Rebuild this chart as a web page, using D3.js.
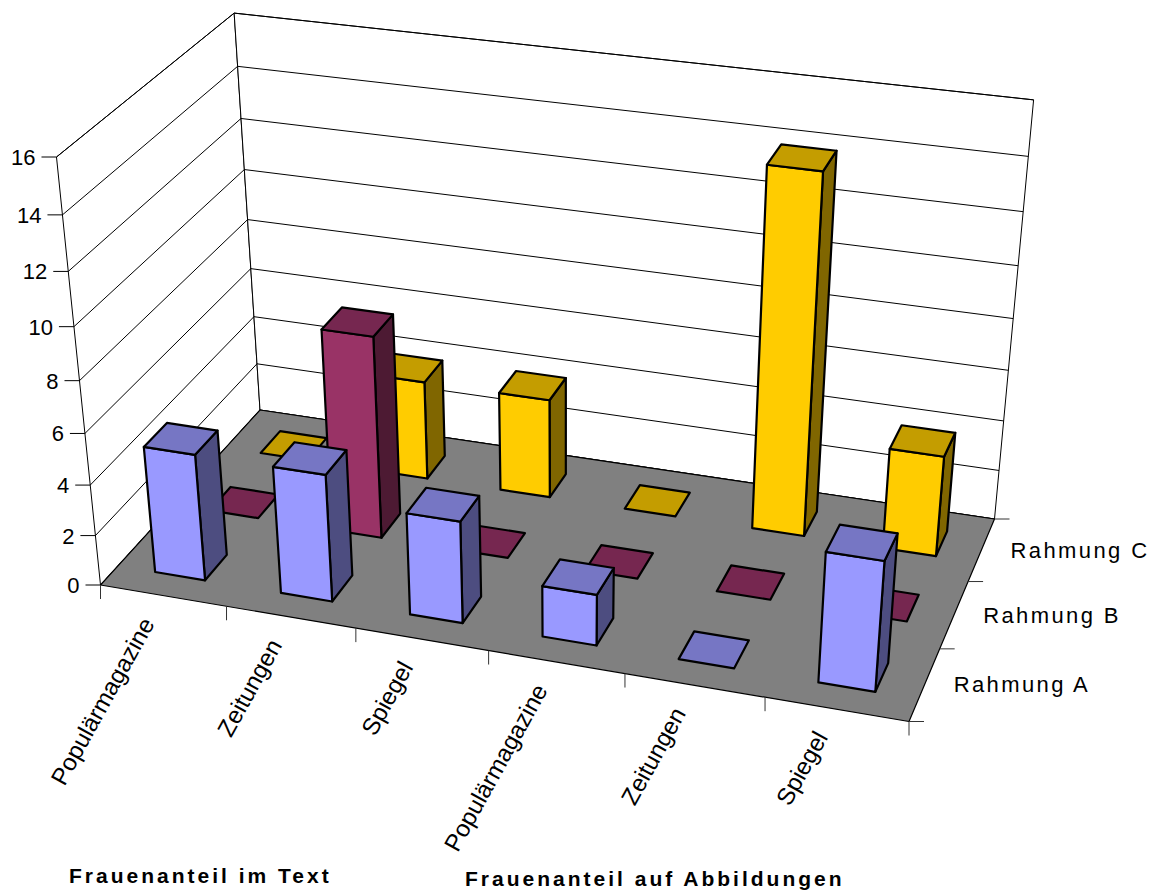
<!DOCTYPE html>
<html>
<head>
<meta charset="utf-8">
<script src="https://d3js.org/d3.v7.min.js"></script>
<style>
  body { margin: 0; background: #fff; }
  svg { display: block; }
  text { font-family: "Liberation Sans", Arial, sans-serif; fill: #000; }
  .tick-label { font-size: 22px; }
  .cat-label { font-size: 24px; }
  .series-label { font-size: 22px; letter-spacing: 2.4px; }
  .title { font-size: 21px; font-weight: bold; letter-spacing: 3px; }
</style>
</head>
<body>
<div id="chart"></div>
<script>
// data
var categories = ["Populärmagazine", "Zeitungen", "Spiegel", "Populärmagazine", "Zeitungen", "Spiegel"];
var seriesNames = ["Rahmung A", "Rahmung B", "Rahmung C"];
var rahmungA = [5, 5, 4, 2, 0, 5];
var rahmungB = [0, 8, 0, 0, 0, 0];
var rahmungC = [0, 4, 4, 0, 14, 4];
var valueTicks = [0, 2, 4, 6, 8, 10, 12, 14, 16];
var titles = ["Frauenanteil im Text", "Frauenanteil auf Abbildungen"];

var width = 1167, height = 891;

// colours: front, top, side
var faceColors = [
    { front: "#9999ff", top: "#7676c4", side: "#4d4d80" },
    { front: "#993366", top: "#762750", side: "#4d1a33" },
    { front: "#ffcc00", top: "#c49d00", side: "#806600" }
];

// perspective: floor corners on screen, vanishing point of the verticals
var floorFL = [100.5, 585], floorFR = [909, 721.5], floorBR = [994.5, 519], floorBL = [260, 410];
var vanish = [566, 5112];
var topFLy = 157;

var dx1 = floorFR[0] - floorBR[0], dx2 = floorBL[0] - floorBR[0], sx = floorFL[0] - floorFR[0] + floorBR[0] - floorBL[0];
var dy1 = floorFR[1] - floorBR[1], dy2 = floorBL[1] - floorBR[1], sy = floorFL[1] - floorFR[1] + floorBR[1] - floorBL[1];
var den = dx1 * dy2 - dx2 * dy1;
var g = (sx * dy2 - dx2 * sy) / den, h = (dx1 * sy - sx * dy1) / den;
var a = floorFR[0] - floorFL[0] + g * floorFR[0], b = floorBL[0] - floorFL[0] + h * floorBL[0];
var d = floorFR[1] - floorFL[1] + g * floorFR[1], e = floorBL[1] - floorFL[1] + h * floorBL[1];
var k = (topFLy - floorFL[1]) / (vanish[1] - topFLy);

// u along the categories, v into the depth, t up the value axis (all 0..1)
function project(u, v, t) {
    var w = g * u + h * v + 1 + k * t;
    return [
        (a * u + b * v + floorFL[0] + k * vanish[0] * t) / w,
        (d * u + e * v + floorFL[1] + k * vanish[1] * t) / w
    ];
}

// scales
var xBand = d3.scaleBand().domain(d3.range(categories.length)).range([0, 1]).paddingInner(0.6).paddingOuter(0.3);
var zBand = d3.scaleBand().domain(d3.range(seriesNames.length)).range([0, 1]).paddingInner(0.6).paddingOuter(0.3);
var xEdge = d3.scaleLinear().domain([0, categories.length]).range([0, 1]);
var zEdge = d3.scaleLinear().domain([0, seriesNames.length]).range([0, 1]);
var yScale = d3.scaleLinear().domain([0, 16]).range([0, 1]);

var line = d3.line().curve(d3.curveLinearClosed);
var seg = d3.line();

var svg = d3.select("#chart").append("svg").attr("width", width).attr("height", height);

function poly(pts, fill, sw, parent) {
    return (parent || svg).append("path")
        .attr("d", line(pts))
        .attr("fill", fill)
        .attr("stroke", "#000")
        .attr("stroke-width", sw)
        .attr("stroke-linejoin", "round");
}

function stroke(p0, p1, sw, color) {
    svg.append("path")
        .attr("d", seg([p0, p1]))
        .attr("fill", "none")
        .attr("stroke", color || "#000")
        .attr("stroke-width", sw);
}

// walls
poly([project(0, 0, 0), project(0, 1, 0), project(0, 1, 1), project(0, 0, 1)], "#fff", 1);
poly([project(0, 1, 0), project(1, 1, 0), project(1, 1, 1), project(0, 1, 1)], "#fff", 1);

// gridlines and value axis
valueTicks.forEach(function (tick) {
    var t = yScale(tick);
    stroke(project(0, 0, t), project(0, 1, t), 1);
    stroke(project(0, 1, t), project(1, 1, t), 1);
    var p = project(0, 0, t);
    stroke([p[0] - 15, p[1]], p, 1);
    svg.append("text")
        .attr("class", "tick-label")
        .attr("x", p[0] - 21)
        .attr("y", p[1] + 8)
        .attr("text-anchor", "end")
        .text(tick);
});

// floor
poly([project(0, 0, 0), project(1, 0, 0), project(1, 1, 0), project(0, 1, 0)], "#808080", 1.2);

// category ticks and labels
d3.range(categories.length + 1).forEach(function (i) {
    var p = project(xEdge(i), 0, 0);
    stroke(p, [p[0], p[1] + 14], 1, "#333");
});
categories.forEach(function (name, i) {
    var p = project(xBand(i) + xBand.bandwidth() / 2, 0, 0);
    svg.append("text")
        .attr("class", "cat-label")
        .attr("text-anchor", "end")
        .attr("transform", "translate(" + (p[0] - 8) + "," + (p[1] + 28) + ") rotate(-61)")
        .text(name);
});

// series ticks and labels
d3.range(seriesNames.length + 1).forEach(function (i) {
    var p = project(1, zEdge(i), 0);
    stroke(p, [p[0] + 15, p[1]], 1, "#333");
});
seriesNames.forEach(function (name, i) {
    var p = project(1, zBand(i) + zBand.bandwidth() / 2, 0);
    svg.append("text")
        .attr("class", "series-label")
        .attr("x", p[0] + 29)
        .attr("y", p[1] + 8)
        .text(name);
});

// bars, back to front
var seriesValues = [rahmungA, rahmungB, rahmungC];
d3.range(seriesNames.length - 1, -1, -1).forEach(function (s) {
    var v0 = zBand(s), v1 = zBand(s) + zBand.bandwidth();
    seriesValues[s].forEach(function (value, i) {
        var u0 = xBand(i), u1 = xBand(i) + xBand.bandwidth();
        var t = yScale(value);
        var c = faceColors[s];
        var bar = svg.append("g").attr("class", "bar");
        if (value > 0) {
            poly([project(u1, v0, 0), project(u1, v1, 0), project(u1, v1, t), project(u1, v0, t)], c.side, 2.2, bar);
            poly([project(u0, v0, 0), project(u1, v0, 0), project(u1, v0, t), project(u0, v0, t)], c.front, 2.2, bar);
        }
        poly([project(u0, v0, t), project(u1, v0, t), project(u1, v1, t), project(u0, v1, t)], c.top, 2.2, bar);
    });
});

// axis titles
svg.append("text").attr("class", "title").attr("x", 69).attr("y", 883).text(titles[0]);
svg.append("text").attr("class", "title").attr("x", 465).attr("y", 886).text(titles[1]);
</script>
</body>
</html>
